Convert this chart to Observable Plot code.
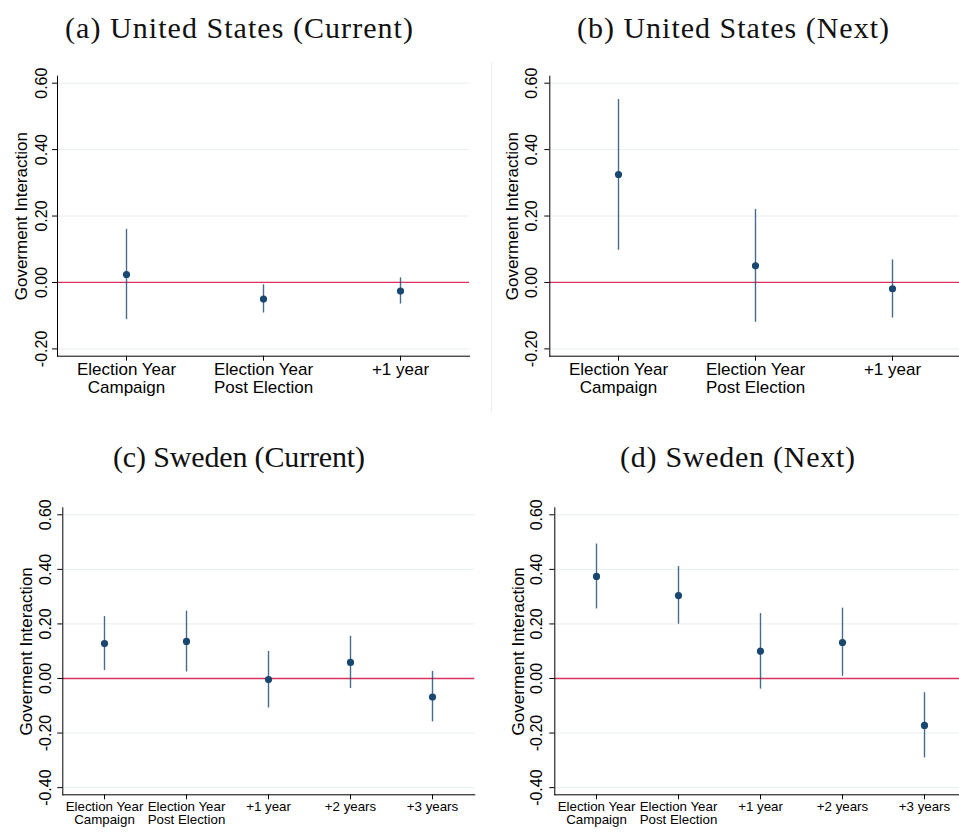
<!DOCTYPE html>
<html>
<head>
<meta charset="utf-8">
<script src="https://cdn.jsdelivr.net/npm/d3@7"></script>
<script src="https://cdn.jsdelivr.net/npm/@observablehq/plot@0.6"></script>
<style>
  html, body { margin: 0; padding: 0; background: #fff; }
  #wrap { position: relative; width: 959px; height: 837px; overflow: hidden; background: #fff; }
  .panel { position: absolute; }
  #titles { position: absolute; left: 0; top: 0; }
  #divider { position: absolute; left: 491px; top: 62px; width: 0; height: 351px; border-left: 1px solid #eeeeee; }
</style>
</head>
<body>
<div id="wrap">
  <div id="divider"></div>
  <div class="panel" id="pa" style="left:0px;top:60px"></div>
  <div class="panel" id="pb" style="left:480px;top:60px"></div>
  <div class="panel" id="pc" style="left:0px;top:490px"></div>
  <div class="panel" id="pd" style="left:480px;top:490px"></div>
  <svg id="titles" width="959" height="837" style="pointer-events:none"></svg>
</div>
<script>
// ---- data ----
const panelTitles = ["(a) United States (Current)", "(b) United States (Next)", "(c) Sweden (Current)", "(d) Sweden (Next)"];
const yAxisTitle = "Goverment Interaction";
const usCategories = ["Election Year\nCampaign", "Election Year\nPost Election", "+1 year"];
const seCategories = ["Election Year\nCampaign", "Election Year\nPost Election", "+1 year", "+2 years", "+3 years"];

const usCurrentEst = [0.024, -0.050, -0.026];
const usCurrentLo  = [-0.112, -0.092, -0.065];
const usCurrentHi  = [0.160, -0.007, 0.014];

const usNextEst = [0.325, 0.050, -0.019];
const usNextLo  = [0.097, -0.120, -0.107];
const usNextHi  = [0.551, 0.220, 0.068];

const seCurrentEst = [0.128, 0.136, -0.004, 0.059, -0.068];
const seCurrentLo  = [0.029, 0.024, -0.108, -0.037, -0.159];
const seCurrentHi  = [0.227, 0.247, 0.099, 0.155, 0.026];

const seNextEst = [0.374, 0.304, 0.100, 0.132, -0.172];
const seNextLo  = [0.255, 0.199, -0.039, 0.008, -0.291];
const seNextHi  = [0.493, 0.410, 0.238, 0.258, -0.052];

const usTicks = [-0.2, 0, 0.2, 0.4, 0.6];
const seTicks = [-0.4, -0.2, 0, 0.2, 0.4, 0.6];

// ---- drawing ----
function panel(o) {
  const rows = o.cats.map((c, i) => ({c, est: o.est[i], lo: o.lo[i], hi: o.hi[i]}));
  return Plot.plot({
    width: o.width, height: o.height,
    marginLeft: o.mL, marginRight: o.mR, marginTop: o.mT, marginBottom: o.mB,
    style: {fontFamily: "'Liberation Sans', Arial, sans-serif", background: "transparent", overflow: "visible", color: "#000"},
    x: {type: "point", domain: o.cats, padding: 0.5},
    y: {domain: o.yDomain},
    marks: [
      Plot.gridY(o.ticks.filter(d => d !== 0), {stroke: "#e6eff1", strokeOpacity: 1}),
      Plot.ruleY([0], {stroke: "#d8325e", strokeWidth: 1.3}),
      Plot.ruleX(rows, {x: "c", y1: "lo", y2: "hi", stroke: "#1a476f", strokeWidth: 1.4, strokeOpacity: 0.8}),
      Plot.dot(rows, {x: "c", y: "est", r: 3.6, fill: "#1a476f", stroke: null}),
      Plot.axisY(o.ticks, {tickSize: 5, tickFormat: () => "", label: null}),
      Plot.text(o.ticks, {y: d => d, text: d => d.toFixed(2), frameAnchor: "left", dx: -o.labelDx, rotate: -90, textAnchor: "middle", lineAnchor: "middle", fontSize: 16, fill: "#000"}),
      Plot.text([yAxisTitle], {text: d => d, frameAnchor: "left", dx: -o.titleDx, rotate: -90, textAnchor: "middle", lineAnchor: "middle", fontSize: 17, fill: "#000"}),
      Plot.axisX({tickSize: 5, tickPadding: 1, label: null, fontSize: o.xFont, lineHeight: o.xLH}),
      Plot.frame({anchor: "left", stroke: "#000"}),
      Plot.frame({anchor: "bottom", stroke: "#000"})
    ]
  });
}

const usDomain = [-0.222, 0.621];
const seDomain = [-0.4263, 0.6257];

document.getElementById("pa").append(panel({
  cats: usCategories, est: usCurrentEst, lo: usCurrentLo, hi: usCurrentHi, ticks: usTicks, yDomain: usDomain,
  width: 480, height: 360, mL: 57, mR: 11, mT: 15.7, mB: 64.3, xFont: 17, xLH: 1.06, labelDx: 16, titleDx: 36
}));
document.getElementById("pb").append(panel({
  cats: usCategories, est: usNextEst, lo: usNextLo, hi: usNextHi, ticks: usTicks, yDomain: usDomain,
  width: 479, height: 360, mL: 69.3, mR: -2, mT: 15.7, mB: 64.3, xFont: 17, xLH: 1.06, labelDx: 17.6, titleDx: 37
}));
document.getElementById("pc").append(panel({
  cats: seCategories, est: seCurrentEst, lo: seCurrentLo, hi: seCurrentHi, ticks: seTicks, yDomain: seDomain,
  width: 480, height: 347, mL: 62.3, mR: 5.7, mT: 17.3, mB: 42.7, xFont: 13.3, xLH: 1.03, labelDx: 17.3, titleDx: 36
}));
document.getElementById("pd").append(panel({
  cats: seCategories, est: seNextEst, lo: seNextLo, hi: seNextHi, ticks: seTicks, yDomain: seDomain,
  width: 479, height: 347, mL: 74.3, mR: -6.8, mT: 17.3, mB: 42.7, xFont: 13.3, xLH: 1.03, labelDx: 17.6, titleDx: 36.6
}));

// panel titles
const tsvg = d3.select("#titles");
const titlePos = [
  {x: 239, y: 38, w: 348},
  {x: 733, y: 38, w: 312},
  {x: 239, y: 467, w: 252},
  {x: 737.5, y: 467, w: 235}
];
panelTitles.forEach((t, i) => {
  tsvg.append("text")
    .attr("x", titlePos[i].x).attr("y", titlePos[i].y)
    .attr("text-anchor", "middle")
    .attr("font-family", "'Liberation Serif', 'DejaVu Serif', serif")
    .attr("font-size", 30)
    .attr("textLength", titlePos[i].w)
    .attr("lengthAdjust", "spacing")
    .attr("fill", "#111")
    .text(t);
});
</script>
</body>
</html>
